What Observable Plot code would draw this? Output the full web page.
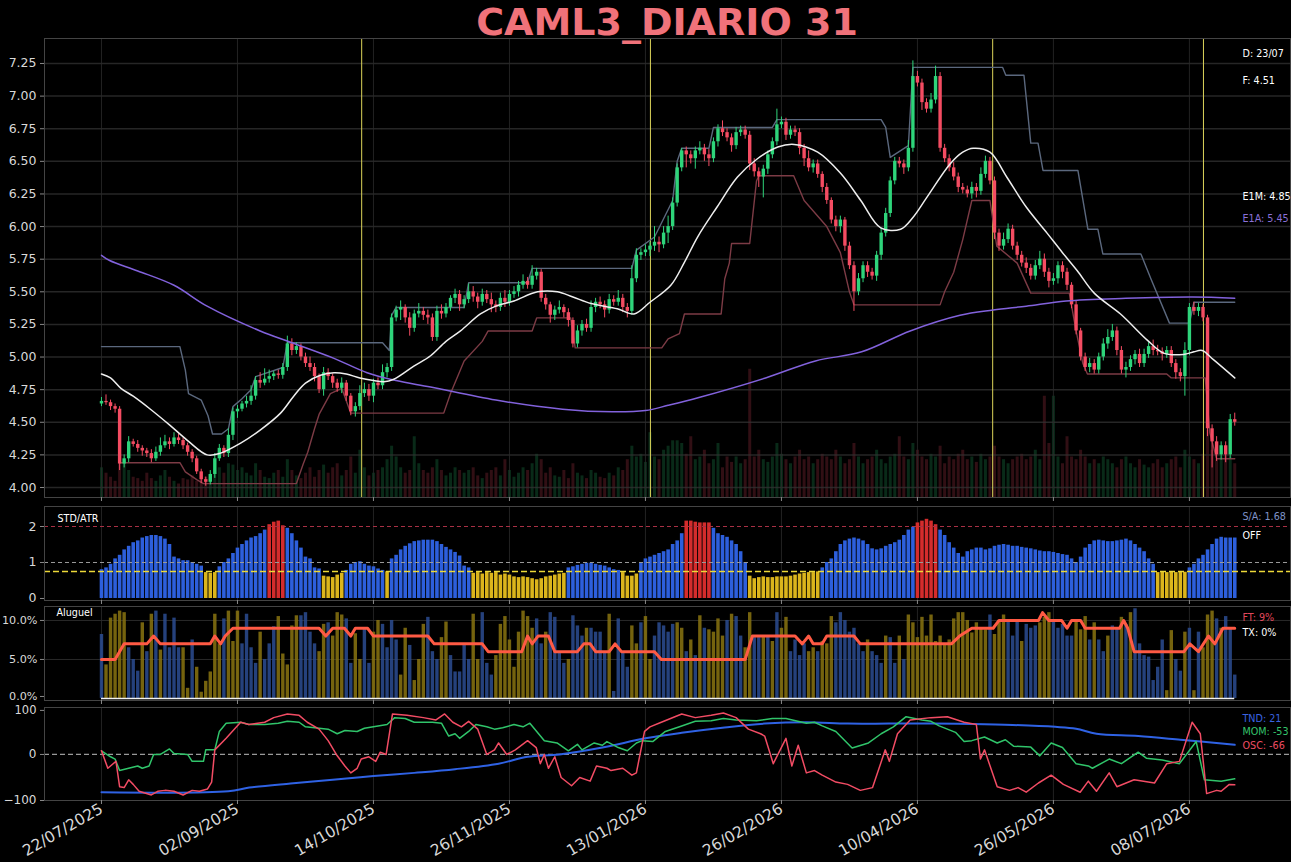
<!DOCTYPE html>
<html><head><meta charset="utf-8">
<script src="https://cdn.jsdelivr.net/npm/d3@7"></script>
<script src="https://cdn.jsdelivr.net/npm/@observablehq/plot@0.6"></script>
<style>
html,body{margin:0;background:#000;}
#root{position:relative;width:1291px;height:862px;background:#000;overflow:hidden;font-family:"DejaVu Sans";}
#root svg{position:absolute;left:0;overflow:visible;}
#title{position:absolute;top:0px;left:44px;width:1246px;height:38px;line-height:38px;text-align:center;color:#f0727a;font:bold 38px "DejaVu Sans";white-space:nowrap;}
</style></head>
<body><div id="root"><div id="title">CAML3_DIARIO 31</div></div>
<script>
// ---------- DATA ----------
const tickIdx = [0,30,60,90,120,150,180,210,240];
const tickLabels = ["22/07/2025","02/09/2025","14/10/2025","26/11/2025","13/01/2026","26/02/2026","10/04/2026","26/05/2026","08/07/2026"];
const markerIdx = [57.4,121.1,196.6,243.1];

const close = [4.66,4.65,4.62,4.60,4.18,4.22,4.35,4.33,4.30,4.28,
4.26,4.22,4.27,4.32,4.35,4.33,4.38,4.36,4.32,4.27,
4.22,4.12,4.06,4.04,4.10,4.22,4.30,4.26,4.40,4.58,
4.60,4.64,4.66,4.70,4.82,4.80,4.83,4.85,4.87,4.86,
4.92,5.10,5.05,5.08,5.00,4.95,4.92,4.85,4.75,4.88,
4.85,4.80,4.76,4.80,4.70,4.58,4.62,4.72,4.75,4.70,
4.80,4.78,4.88,4.92,5.30,5.36,5.38,5.30,5.22,5.33,
5.35,5.32,5.30,5.15,5.35,5.33,5.38,5.45,5.48,5.40,
5.44,5.50,5.46,5.42,5.48,5.44,5.40,5.38,5.45,5.42,
5.48,5.50,5.55,5.58,5.55,5.62,5.65,5.45,5.40,5.32,
5.36,5.38,5.34,5.28,5.10,5.20,5.25,5.22,5.38,5.42,
5.40,5.36,5.44,5.42,5.45,5.38,5.35,5.60,5.78,5.80,
5.82,5.85,5.88,5.86,5.95,6.00,6.18,6.45,6.58,6.55,
6.52,6.58,6.60,6.55,6.52,6.65,6.75,6.72,6.68,6.62,
6.72,6.74,6.70,6.48,6.42,6.38,6.44,6.55,6.65,6.78,
6.80,6.70,6.74,6.72,6.60,6.52,6.45,6.48,6.40,6.30,
6.20,6.05,6.00,6.05,5.85,5.70,5.50,5.60,5.70,5.65,
5.62,5.78,5.95,6.10,6.35,6.50,6.48,6.45,6.60,7.15,
7.10,6.95,6.90,6.97,7.15,6.60,6.52,6.45,6.38,6.30,
6.28,6.25,6.30,6.27,6.40,6.50,6.35,5.95,5.85,5.90,
5.98,5.85,5.78,5.72,5.68,5.62,5.70,5.75,5.65,5.58,
5.60,5.70,5.65,5.55,5.40,5.20,5.00,4.92,4.95,4.90,
5.00,5.10,5.15,5.20,5.05,4.90,4.92,4.98,5.02,4.95,
5.02,5.08,5.05,5.04,5.02,5.05,4.95,4.88,4.85,5.05,
5.38,5.35,5.38,5.30,4.45,4.35,4.25,4.32,4.25,4.52,
4.50];
const open = [4.64,4.66,4.65,4.62,4.60,4.18,4.22,4.35,4.33,4.30,
4.28,4.26,4.22,4.27,4.32,4.35,4.33,4.38,4.36,4.32,
4.27,4.22,4.12,4.06,4.04,4.10,4.22,4.30,4.26,4.40,
4.58,4.60,4.64,4.66,4.70,4.82,4.80,4.83,4.85,4.87,
4.86,4.92,5.10,5.05,5.08,5.00,4.95,4.92,4.85,4.75,
4.88,4.85,4.80,4.76,4.80,4.70,4.58,4.62,4.72,4.75,
4.70,4.80,4.78,4.88,4.92,5.30,5.36,5.38,5.30,5.22,
5.33,5.35,5.32,5.30,5.15,5.35,5.33,5.38,5.45,5.48,
5.40,5.44,5.50,5.46,5.42,5.48,5.44,5.40,5.38,5.45,
5.42,5.48,5.50,5.55,5.58,5.55,5.62,5.65,5.45,5.40,
5.32,5.36,5.38,5.34,5.28,5.10,5.20,5.25,5.22,5.38,
5.42,5.40,5.36,5.44,5.42,5.45,5.38,5.35,5.60,5.78,
5.80,5.82,5.85,5.88,5.86,5.95,6.00,6.18,6.45,6.58,
6.55,6.52,6.58,6.60,6.55,6.52,6.65,6.75,6.72,6.68,
6.62,6.72,6.74,6.70,6.48,6.42,6.38,6.44,6.55,6.65,
6.78,6.80,6.70,6.74,6.72,6.60,6.52,6.45,6.48,6.40,
6.30,6.20,6.05,6.00,6.05,5.85,5.70,5.50,5.60,5.70,
5.65,5.62,5.78,5.95,6.10,6.35,6.50,6.48,6.45,6.60,
7.15,7.10,6.95,6.90,6.97,7.15,6.60,6.52,6.45,6.38,
6.30,6.28,6.25,6.30,6.27,6.40,6.50,6.35,5.95,5.85,
5.90,5.98,5.85,5.78,5.72,5.68,5.62,5.70,5.75,5.65,
5.58,5.60,5.70,5.65,5.55,5.40,5.20,5.00,4.92,4.95,
4.90,5.00,5.10,5.15,5.20,5.05,4.90,4.92,4.98,5.02,
4.95,5.02,5.08,5.05,5.04,5.02,5.05,4.95,4.88,4.85,
5.05,5.38,5.35,5.38,5.30,4.45,4.35,4.25,4.32,4.25,
4.52];
// wick lengths above / below the body, in cents
const wickUp = [3,5,2,2,2,3,4,2,3,2, 2,3,4,6,5,3,4,3,2,2, 2,2,2,2,3,4,3,2,5,3, 3,2,4,8,3,6,8,5,2,3,
3,6,4,3,2,3,5,3,2,4, 3,2,3,4,2,2,3,6,5,4, 3,4,6,3,3,3,5,2,4,3, 6,3,4,3,4,5,3,2,4,3,
3,6,4,3,4,3,5,3,4,6, 3,4,3,5,3,8,3,2,3,2, 3,5,2,3,2,4,3,4,5,3, 4,3,4,3,6,3,3,10,5,3,
4,3,12,4,5,8,4,3,2,3, 3,3,5,3,4,3,3,6,3,3, 4,3,3,3,4,3,3,3,3,12, 4,3,3,3,3,3,6,3,3,2,
3,2,3,3,2,3,3,4,3,3, 3,3,4,4,3,3,3,3,6,12, 4,3,3,5,8,3,3,3,4,3, 3,3,4,3,5,4,3,3,3,5,
4,3,3,3,4,3,4,6,4,3, 4,3,3,3,2,3,2,3,4,3, 3,4,6,5,3,3,4,3,3,4, 4,3,5,4,3,3,3,3,3,6,
3,4,3,2,2,3,4,3,3,4, 5];
const wickDn = [2,2,3,3,5,3,3,2,3,4, 3,3,2,3,2,4,2,3,3,3, 3,2,3,3,2,3,2,3,3,4, 5,2,3,3,3,4,2,3,3,3,
3,3,4,3,3,3,3,4,3,5, 3,4,3,4,4,3,4,3,3,4, 5,3,3,4,3,3,8,4,6,3, 3,4,5,3,3,4,3,3,4,5,
3,3,4,5,3,3,6,4,3,4, 3,3,4,3,3,3,3,3,4,6, 4,3,4,5,3,3,4,3,3,4, 3,6,3,3,3,4,5,3,3,4,
3,5,4,6,3,8,3,3,3,10, 4,8,3,5,6,3,4,3,3,5, 3,3,3,5,4,8,16,4,3,3, 3,4,3,3,5,6,3,4,3,4,
3,3,4,5,4,3,15,3,3,4, 3,4,4,3,3,3,3,5,3,3, 3,6,3,3,3,3,3,3,3,4, 3,3,4,5,3,3,3,5,4,3,
3,3,4,3,4,3,3,3,4,5, 3,4,5,4,3,3,3,3,4,3, 3,3,4,3,4,3,6,3,4,3, 3,3,4,3,5,3,3,5,4,15,
4,3,4,3,6,20,5,4,6,3, 3];
const volume = [22,18,15,12,30,25,20,15,14,12, 18,14,12,16,20,15,12,10,14,13, 16,12,18,15,14,20,22,18,25,24,
20,22,18,16,25,20,15,14,18,20, 15,28,20,16,14,18,22,15,20,24, 18,22,25,16,20,30,18,35,22,16,
18,20,22,28,38,30,22,18,20,45, 25,20,18,22,28,20,16,18,22,20, 18,20,22,16,14,18,20,22,16,28,
20,15,18,22,20,25,32,28,18,22, 16,15,20,14,25,18,16,14,20,18, 15,14,18,16,22,20,28,38,30,32,
26,48,30,28,35,38,42,42,40,32, 45,28,30,35,25,28,40,22,30,26, 30,25,28,95,30,35,28,26,30,40,
32,28,25,30,35,28,30,25,28,32, 30,28,35,30,25,28,40,30,25,28, 30,35,28,25,30,32,45,30,28,40,
35,30,28,32,30,38,25,30,28,32, 35,28,30,26,32,28,30,38,30,28, 25,28,30,32,28,30,35,28,75,40,
75,30,25,45,30,28,35,30,25,28, 25,30,28,25,22,28,30,25,22,28, 24,22,25,28,22,25,28,30,22,35,
30,28,25,32,50,35,28,30,32,30, 25];

// moving averages & channels, read at points along the curves: [index, price]
const e1m = [[0,4.87],[2,4.84],[4.3,4.76],[7,4.7],[10.8,4.6],[15,4.48],[19,4.36],[23.3,4.25],[26,4.26],[30.7,4.34],[35,4.44],[39.5,4.57],[42.4,4.7],[45,4.8],[48.3,4.86],[51.3,4.88],[54,4.87],[57,4.84],[60,4.82],[62.3,4.81],[64.5,4.83],[68.9,4.93],[72.6,5.01],[76,5.12],[79.2,5.2],[83.6,5.33],[87,5.39],[91,5.43],[96.2,5.5],[100.6,5.5],[104,5.46],[108,5.41],[113.8,5.37],[117.5,5.33],[121,5.42],[125.6,5.55],[128.5,5.72],[131.5,5.92],[135.8,6.15],[140.3,6.38],[144.7,6.52],[149.2,6.61],[152.8,6.63],[158,6.57],[163,6.41],[167.5,6.2],[171.9,5.99],[176.3,5.98],[179,6.07],[182,6.22],[187.2,6.48],[190,6.57],[192.3,6.6],[196,6.57],[199.7,6.38],[204,6.15],[208.6,5.95],[212,5.8],[215.3,5.66],[219,5.49],[224.8,5.33],[230.7,5.13],[234.3,5.03],[238.7,5.02],[241,5.04],[242.8,5.05],[245.3,4.98],[250,4.84]];
const e1a = [[0,5.78],[1.8,5.74],[8,5.66],[16,5.55],[23.3,5.39],[35,5.2],[42,5.11],[51.3,4.99],[58.6,4.88],[65,4.82],[72.6,4.77],[87,4.67],[101.7,4.6],[112.7,4.58],[120,4.59],[125,4.63],[131.8,4.69],[146.5,4.84],[157.5,4.97],[167.7,5.04],[178.4,5.2],[189.4,5.32],[196.7,5.36],[204,5.39],[212.8,5.43],[226,5.45],[240.7,5.46],[250,5.45]];
const upperCh = [[0,5.08],[17.3,5.08],[18.5,4.9],[19.2,4.72],[22,4.67],[23.5,4.55],[24.5,4.41],[26.5,4.41],[28,4.45],[29,4.62],[31,4.68],[33,4.75],[34,4.85],[40,4.92],[41,5.11],[62,5.11],[63.5,5.05],[64,5.32],[65,5.38],[80,5.38],[81,5.57],[94,5.57],[95,5.68],[117,5.68],[118,5.82],[122,5.92],[126,6.2],[127,6.5],[128,6.6],[134,6.6],[135,6.76],[148,6.76],[149,6.82],[172,6.82],[173,6.76],[174,6.53],[178,6.62],[179,7.22],[198.8,7.22],[199.5,7.16],[203.5,7.16],[205,6.64],[206.6,6.64],[207.7,6.43],[215.4,6.43],[217.6,5.98],[219.8,5.98],[220.9,5.79],[229.3,5.79],[231.5,5.6],[235.6,5.26],[240,5.26],[241,5.42],[250,5.42]];
const lowerCh = [[4,4.19],[17.3,4.19],[18.5,4.12],[21,4.06],[22.5,4.03],[43,4.03],[44.5,4.18],[45.5,4.27],[47,4.45],[48,4.56],[50.5,4.72],[53,4.76],[55,4.57],[75.5,4.57],[77,4.72],[80,4.97],[84,5.12],[85.3,5.2],[95,5.2],[96,5.3],[103.5,5.3],[104.5,5.07],[123.6,5.07],[125,5.14],[127.5,5.18],[128.6,5.33],[136.7,5.33],[137.5,5.6],[138.5,5.72],[139,5.87],[143,5.87],[144.5,6.35],[145,6.39],[152.7,6.39],[155,6.2],[160,6.0],[163,5.8],[165,5.5],[166,5.4],[185,5.4],[186,5.5],[188,5.65],[190,5.9],[192,6.2],[196,6.2],[197.5,5.85],[202,5.72],[205,5.49],[213.5,5.49],[215,5.2],[216.5,4.95],[217.5,4.87],[235,4.87],[236,4.84],[243.5,4.84],[244.5,4.42],[246,4.22],[250,4.22]];

// STD/ATR ratio per bar
const stdAtr = [0.80,0.85,0.95,1.10,1.20,1.35,1.45,1.55,1.60,1.68,
1.72,1.75,1.75,1.72,1.65,1.50,1.15,1.10,1.05,1.05,
1.00,0.95,0.90,0.72,0.70,0.72,0.88,1.00,1.10,1.25,
1.40,1.50,1.60,1.68,1.72,1.80,1.90,2.05,2.12,2.15,
2.02,1.95,1.80,1.60,1.40,1.15,1.10,0.85,0.82,0.62,
0.60,0.58,0.65,0.70,0.78,0.95,1.00,1.02,0.95,0.90,
0.88,0.82,0.78,0.74,1.10,1.20,1.35,1.45,1.52,1.58,
1.60,1.62,1.62,1.62,1.58,1.50,1.42,1.35,1.28,1.18,
0.90,0.85,0.70,0.72,0.68,0.72,0.70,0.72,0.65,0.68,
0.65,0.60,0.58,0.60,0.58,0.55,0.52,0.55,0.60,0.62,
0.65,0.68,0.70,0.85,0.88,0.92,0.95,0.98,0.98,0.95,
0.92,0.90,0.85,0.80,0.78,0.72,0.62,0.62,0.68,1.00,
1.10,1.15,1.20,1.25,1.30,1.35,1.50,1.60,1.80,2.15,
2.15,2.12,2.10,2.10,2.10,1.95,1.80,1.75,1.70,1.60,
1.50,1.30,1.00,0.62,0.55,0.58,0.60,0.58,0.58,0.60,
0.60,0.60,0.62,0.65,0.68,0.70,0.72,0.72,0.74,0.85,
1.00,1.10,1.30,1.50,1.60,1.65,1.68,1.65,1.60,1.50,
1.38,1.35,1.38,1.45,1.50,1.55,1.62,1.75,1.90,1.98,
2.10,2.15,2.20,2.15,2.05,1.90,1.75,1.55,1.40,1.25,
1.15,1.30,1.35,1.40,1.40,1.35,1.38,1.45,1.48,1.50,
1.48,1.45,1.45,1.42,1.40,1.38,1.35,1.32,1.30,1.30,
1.28,1.25,1.22,1.20,1.10,1.00,1.15,1.40,1.50,1.60,
1.62,1.60,1.58,1.58,1.60,1.62,1.65,1.60,1.50,1.40,
1.30,1.10,0.95,0.72,0.74,0.72,0.74,0.72,0.74,0.73,
0.85,0.95,1.10,1.20,1.35,1.50,1.65,1.70,1.68,1.68,1.68];

// Aluguel bars (%) and their colour group (b = blue, y = yellow)
const aluguel = [8.2,4.3,10.3,10.8,11.2,11.0,6.5,5.0,3.5,9.7, 6,10.8,11.2,6.2,10.8,6.5,10.3,6.5,6.5,1.3,
7.5,4,0.8,2.2,3.4,10.8,7,10.2,11.2,7.3, 11.2,7,10.8,6.5,4.5,8.5,5,7,9.2,10.5,
5.7,4.3,9.3,10.6,10.6,11,8.5,7,6,9.5, 9.7,8,11,10.7,10.2,4.5,8.3,5,9,4.5,
8.5,10,9.5,6.5,10,7.5,3,9,6.8,2.3, 5,9.5,10.4,6,5,7.8,9.8,5.5,3.4,3.4,
7,5,10.8,5,11,4.5,3,5.5,9.5,10.5, 7.5,4,8.5,11.2,10.5,9,10.2,7,8.5,11,
10.4,6,4.5,5,10.6,9.3,8,9,9,8.5, 8.5,6,10.8,0.9,10.2,6,4,9.3,7,9.7, 10.5,
5,8,9.7,9.3,8.5,9.5,9.7,9,6,7.5, 5.5,10.6,9,8.8,8.5,10.2,8,10,10.8,10.5,
8,6.5,11,7.8,7.8,8,8,7.3,11,9, 10.4,6,7.5,5.5,7,6,6.5,6,7.3,7,
10.5,9.7,11,10,8.5,9,7,6,7.5,6, 5.5,4.5,8,7.8,4.5,8,5,10.7,9.7,7.8,
10.4,8,10.7,7.3,8,7,7.5,10.2,11,11, 10,8.4,9.7,9,8.8,10.7,8.2,10,10.7,10,
8,10,7.3,9.5,9,9.3,9.7,10.4,11,10, 9,9.5,8,8,10,8.8,10.5,7.5,9.7,7.5,
6,8,9.3,9,10.4,9.5,11,11.5,7,5.5, 5.3,2.3,4,7.5,1,8.7,5,3.5,8.5,9,
1,8.5,6.5,10.7,11.2,10.2,9,10.5,9,3];
const aluguelGroup = "byyyyybbby"+"bybybbbbyy"+"byyyyyybyy"+"ybbbbybbby"+"yyyybbbbyy"+"byyybbyybb"+"yybbbbyyby"+"yybbbyybbb"+"bbyybbbyyy"+"yyyyyybbyb"+"bbbybbbybb"+"bbybbbbyyb"+"y"+
"ybbbbbyyby"+"bybyyyybyb"+"byybbybyby"+"ybbbbyybyy"+"ybbbbbbbyb"+"bbybbybyyy"+"yyyyyyyyyy"+"yyyyybyyyb"+"bbybbbyyyb"+"bbbbyyybyb"+"bybbybybbb"+"bbbbyybbyb"+"ybyyybybbb";
// FT line (%) read at its turning points
const ftIdx = [0,3,5,10,11.5,13,24,25,26.3,27.3,29,48,49.5,51,53.6,55,56,58.7,60,72,73.4,84,85.3,92.7,94,95,96.3,98.6,100,105,106.4,107.8,109,112,113.3,114.7,122,123.5,142,143.6,153,154.6,156,157,159,160,166,167.4,187.5,189.3,192,196.7,198,206.7,207.6,209,211.8,213,214,216,217,224.6,225.5,226.4,227.8,238.8,240.1,242,244.2,245.6,246.5,247.4,250];
const ftVal = [5,5,7,7,8,7,7,8,7,8,9,9,8,9,9,8,9,9,8,8,7,7,6,6,8,7,8,8,6,6,7,7,6,6,7,6,6,5,5,8,8,7,8,7,7,8,8,7,7,8,9,9,10,10,11,10,10,9,10,10,9,9,10,9,6,6,7,6,8,7,8,9,9];

// oscillators: [index, value]
const tnd = [[0,-82],[28,-80],[32.6,-72],[41.7,-63],[51,-55],[60,-47],[69,-40],[78,-32],[87.6,-20],[94,-5],[101,0],[110.5,15],[120,35],[128,47],[137,58],[146.3,67],[155.5,70],[164.6,67],[173.8,67],[183,67],[192,66],[201,64],[210.4,60],[215,56],[219.5,45],[228.7,40],[238,32],[250,21]];
const mom = [[0,8],[2,-5],[3,-10],[4,-35],[6,-30],[8,-25],[9,-30],[10.5,-25],[11.5,0],[13,0],[15,12],[16,2],[19,0],[20,-15],[22.5,-15],[23,10],[25,10],[26,50],[27.5,68],[30.7,70],[32.5,65],[36,65],[39,68],[41,72],[43.6,70],[45,60],[47,58],[50,55],[52,45],[53.7,52],[56.4,50],[58,57],[61,62],[63,65],[64.7,80],[67,78],[69,70],[73,70],[75,68],[76.6,40],[78,45],[79,35],[81,50],[82.6,65],[85,60],[86.7,55],[88.5,58],[91,65],[93,60],[94.5,68],[97.7,30],[100.5,25],[103,8],[105,22],[106,10],[108.7,25],[110.5,20],[111.5,28],[114,15],[116,8],[118,25],[119.3,30],[121.6,28],[124.4,50],[128,62],[131,72],[134.5,73],[137.2,78],[140,75],[144.5,73],[148,78],[151,78],[155.5,68],[157.3,70],[159,62],[162,50],[165.6,14],[169.2,25],[172,45],[174.7,60],[177.5,82],[181,75],[183,72],[184.8,62],[188.4,48],[190.3,28],[192,30],[194.8,38],[197.6,25],[199.4,32],[201.2,18],[205,16],[207,-3],[209.5,25],[212,15],[215,-20],[217.7,-25],[218.6,-30],[222.3,-10],[225,-20],[228.7,5],[230.5,-8],[234,-12],[237.8,-20],[241.5,28],[243.3,-55],[247,-58],[250,-53]];
const osc = [[0,8],[1.4,-30],[3.2,-15],[4,-70],[5,-72],[6,-55],[7,-65],[8.3,-80],[11,-88],[12.4,-80],[14,-78],[16,-80],[18,-88],[20,-78],[21.6,-80],[23.4,-75],[24.3,-60],[25,10],[27.5,35],[30.7,70],[32.5,65],[36,70],[38,80],[41,88],[43.6,85],[45.4,70],[48,55],[50,30],[51.8,0],[53.7,-25],[55,-40],[56.4,-30],[57.3,-10],[59,-5],[60.5,-15],[61.5,5],[62.8,0],[64.2,88],[67.4,85],[71,80],[73.8,75],[75.7,88],[77.5,70],[79.4,60],[81,72],[83,55],[85,0],[86.7,10],[87.6,25],[89.4,0],[91.3,10],[94,30],[95.9,15],[96.8,-20],[97.7,0],[98.6,-30],[100,-5],[101.4,-50],[103.7,-68],[105.5,-50],[107.8,-58],[109.2,-25],[111.5,-30],[112.4,-35],[115,-30],[117,-45],[118,-40],[119.8,50],[121,60],[123.5,70],[128,88],[131,80],[134.5,85],[137.2,90],[140,80],[142.7,55],[145.4,45],[146.3,40],[148.2,-20],[151,35],[152.3,-25],[153.7,20],[155.5,-40],[157.3,-35],[159,-45],[162,-60],[164.6,-65],[167.4,-78],[170.1,-72],[172.9,10],[173.8,-15],[175.6,45],[178.4,75],[183,80],[186.6,82],[190.3,70],[193,65],[193.9,-10],[194.8,10],[197.6,-70],[200.3,-78],[202.2,-72],[204,-82],[206.7,-62],[209.5,-45],[212.2,-65],[215.9,-82],[217.7,-58],[219.5,-80],[222.3,-40],[224,-70],[227.8,-55],[232.3,-62],[235,-20],[237.8,-15],[240.6,70],[242.4,45],[243.8,-85],[246,-78],[247,-80],[248.8,-65],[250,-66]];

// ---------- BUILD ----------
const GREEN = "#2ed47a", RED = "#f44c62";
const candles = close.map((c, i) => {
  const o = open[i];
  return {i, o, c, h: Math.max(o, c) + wickUp[i] / 100, l: Math.min(o, c) - wickDn[i] / 100, v: volume[i], col: c >= o ? GREEN : RED};
});
const stdRows = stdAtr.map((v, i) => ({i, v, col: v > 2 ? "#d42c2c" : v < 0.75 ? "#dbb51c" : "#2d5fdc"}));
const aluRows = aluguel.map((v, i) => ({i, v, col: aluguelGroup[i] === "y" ? "#8a7410" : "#2c4c92"}));
const ftRows = ftIdx.map((x, k) => ({x, y: ftVal[k]}));

const root = document.getElementById("root");
const X = {domain: [-12.57, 262.3], axis: null};
const W = 1291, ML = 44, MR = 1;
const FONT = "DejaVu Sans";
function place(svg, top) { svg.style.top = top + "px"; root.appendChild(svg); }
function base(height, y, marks, mb = 0) {
  return Plot.plot({
    width: W, height, marginLeft: ML, marginRight: MR, marginTop: 0, marginBottom: mb,
    x: X, y: {...y, axis: null},
    style: {background: "transparent", color: "#d8d8d8", fontFamily: FONT, fontSize: "12px"},
    marks
  });
}
const xTickMarks = () => Plot.axisX(tickIdx, {tickSize: 4, tickFormat: () => "", stroke: "#888", label: null});
const label = (txt, anchor, dx, dy, fill, size = 9.6) =>
  Plot.text([txt], {frameAnchor: anchor, textAnchor: "start", lineAnchor: "middle", dx, dy, fill, fontSize: size});
const pct = d => d.toFixed(1) + "%";

// volume overlay (behind)
place(base(459, {domain: [0, 340]}, [
  Plot.ruleX(candles, {x: "i", y1: 0, y2: "v", stroke: "col", strokeWidth: 3, strokeOpacity: 0.2})
]), 38);

// main price panel
const yMainTicks = [4.00,4.25,4.50,4.75,5.00,5.25,5.50,5.75,6.00,6.25,6.50,6.75,7.00,7.25];
place(base(459, {domain: [3.9234, 7.4416]}, [
  Plot.gridY(yMainTicks, {stroke: "#333", strokeOpacity: 0.75, strokeWidth: 1.5}),
  Plot.gridX(tickIdx, {stroke: "#2a2a2a", strokeOpacity: 0.8}),
  Plot.ruleX(markerIdx, {stroke: "#dcd45a", strokeWidth: 1}),
  Plot.line(upperCh, {stroke: "#5b687e", strokeWidth: 1.4}),
  Plot.line(lowerCh, {stroke: "#7c3b45", strokeWidth: 1.4}),
  Plot.ruleX(candles, {x: "i", y1: "l", y2: "h", stroke: "col", strokeWidth: 1}),
  Plot.ruleX(candles, {x: "i", y1: "o", y2: "c", stroke: "col", strokeWidth: 3.4}),
  Plot.line(e1a, {curve: "catmull-rom", stroke: "#8262dc", strokeWidth: 1.5}),
  Plot.line(e1m, {curve: "catmull-rom", stroke: "#eeeeee", strokeWidth: 1.5}),
  Plot.frame({stroke: "#444"}),
  Plot.axisY(yMainTicks, {tickSize: 4, tickPadding: 4, tickFormat: d => d.toFixed(2), label: null, stroke: "#888", fontSize: 12.5}),
  xTickMarks(),
  label("D: 23/07", "top-right", -48, 15, "#ffffff"),
  label("F: 4.51", "top-right", -48, 42, "#ffffff"),
  label("E1M: 4.85", "top-right", -48, 158, "#ffffff"),
  label("E1A: 5.45", "top-right", -48, 180, "#8a70d8")
]), 38);

// STD/ATR panel
place(base(94, {domain: [-0.056, 2.556]}, [
  Plot.gridX(tickIdx, {stroke: "#2a2a2a", strokeOpacity: 0.8}),
  Plot.ruleX(stdRows, {x: "i", y1: 0, y2: "v", stroke: "col", strokeWidth: 3.6}),
  Plot.ruleY([2], {stroke: "#a83044", strokeDasharray: "4,3", strokeWidth: 1}),
  Plot.ruleY([1], {stroke: "#9a9a9a", strokeDasharray: "4,3", strokeWidth: 1}),
  Plot.ruleY([0.75], {stroke: "#ecd838", strokeDasharray: "6,3", strokeWidth: 1.5}),
  Plot.frame({stroke: "#444"}),
  Plot.axisY([0, 1, 2], {tickSize: 4, tickPadding: 4, label: null, stroke: "#888", fontSize: 12.5}),
  xTickMarks(),
  label("STD/ATR", "top-left", 13, 12, "#ffffff"),
  label("S/A: 1.68", "top-right", -48, 10, "#7f93c8"),
  label("OFF", "top-right", -48, 29, "#ffffff")
]), 506);

// Aluguel panel
place(base(94, {domain: [-0.26, 11.79]}, [
  Plot.gridY([5, 10], {stroke: "#333", strokeOpacity: 0.8}),
  Plot.gridX(tickIdx, {stroke: "#2a2a2a", strokeOpacity: 0.8}),
  Plot.ruleX(aluRows, {x: "i", y1: 0, y2: "v", stroke: "col", strokeWidth: 3.4, strokeOpacity: 0.85}),
  Plot.ruleY([0], {x1: 0, x2: 250, stroke: "#f2f2f2", strokeWidth: 1.5}),
  Plot.line(ftRows, {x: "x", y: "y", stroke: "#ff5a44", strokeWidth: 3, strokeLinejoin: "round"}),
  Plot.frame({stroke: "#444"}),
  Plot.axisY([5, 10], {tickSize: 4, tickPadding: 3, tickFormat: pct, label: null, stroke: "#888", fontSize: 11.2}),
  Plot.axisY([0], {tickSize: 4, tickPadding: 3, tickFormat: pct, label: null, stroke: "#888", fontSize: 11.2, dy: -2}),
  xTickMarks(),
  label("Aluguel", "top-left", 12, 6, "#ffffff"),
  label("FT: 9%", "top-right", -48, 11, "#e0485c"),
  label("TX: 0%", "top-right", -48, 26, "#ffffff")
]), 606);

// Oscillator panel with the date axis
place(base(155, {domain: [-100, 102]}, [
  Plot.gridX(tickIdx, {stroke: "#2a2a2a", strokeOpacity: 0.8}),
  Plot.ruleY([0], {stroke: "#9a9a9a", strokeDasharray: "5,3", strokeWidth: 1.2}),
  Plot.line(tnd, {curve: "catmull-rom", stroke: "#2f62e4", strokeWidth: 2}),
  Plot.line(mom, {stroke: "#30c46a", strokeWidth: 1.5}),
  Plot.line(osc, {stroke: "#f24c64", strokeWidth: 1.5}),
  Plot.frame({stroke: "#444"}),
  Plot.axisY([-100, 0], {tickSize: 4, tickPadding: 4, tickFormat: d => d < 0 ? "\u2212" + Math.abs(d) : String(d), label: null, stroke: "#888", fontSize: 12}),
  Plot.axisY([100], {tickSize: 4, tickPadding: 4, label: null, stroke: "#888", fontSize: 11.5, dy: 2}),
  Plot.axisX(tickIdx, {tickSize: 4, tickPadding: 3, tickRotate: -30, tickFormat: i => tickLabels[tickIdx.indexOf(i)], fontSize: 15.5, label: null, stroke: "#888"}),
  label("TND: 21", "top-right", -48, 11, "#3a64e0"),
  label("MOM: -53", "top-right", -48, 24, "#34c46c"),
  label("OSC: -66", "top-right", -48, 38, "#ee4c62")
], 62), 707);
</script>
</body></html>
